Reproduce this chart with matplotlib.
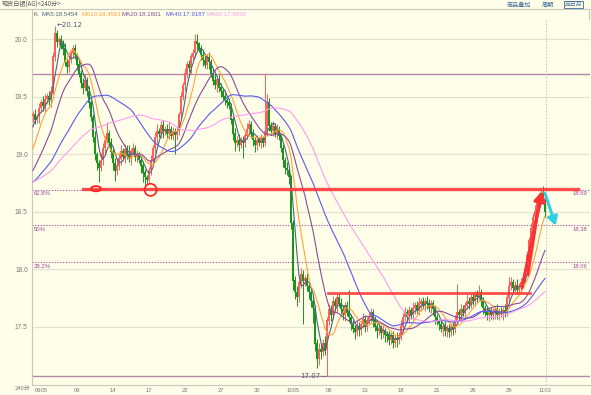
import numpy as np
import pandas as pd
import matplotlib
matplotlib.use("Agg")
import matplotlib.pyplot as plt
from matplotlib.patches import Ellipse

# ---------------- data ----------------
warmup_closes = [
    18.80, 18.78, 18.82, 18.85, 18.80, 18.76, 18.72, 18.75, 18.78, 18.74,
    18.70, 18.72, 18.76, 18.78, 18.74, 18.72, 18.76, 18.74, 18.70, 18.73,
    18.70, 18.66, 18.62, 18.60, 18.64, 18.68, 18.65, 18.62, 18.66, 18.70,
    18.68, 18.64, 18.62, 18.66, 18.70, 18.68, 18.65, 18.66, 18.68, 18.66,
    18.64, 18.62, 18.66, 18.70, 18.65, 18.68, 18.64, 18.66, 18.72, 18.73,
    18.78, 18.82, 18.85, 18.90, 18.95, 19.05, 19.18, 19.28, 19.33,
]
closes = [
    19.35, 19.30, 19.33, 19.40, 19.45, 19.42, 19.48, 19.50, 19.47, 19.55,
    19.85, 20.05, 19.98, 20.00, 19.96, 19.92, 19.80, 19.76, 19.82, 19.88,
    19.92, 19.86, 19.78, 19.70, 19.62, 19.58, 19.64, 19.55, 19.45, 19.32,
    19.15, 19.00, 18.92, 18.88, 18.95, 19.05, 19.12, 19.18, 19.10, 19.02,
    18.92, 18.85, 18.90, 18.96, 19.02, 18.98, 19.04, 19.00, 18.96, 19.02,
    19.05, 18.98, 19.00, 18.95, 18.90, 18.84, 18.80, 18.78, 18.86, 18.95,
    19.05, 19.15, 19.20, 19.18, 19.25, 19.20, 19.22, 19.18, 19.22, 19.16,
    19.20, 19.17, 19.20, 19.35, 19.50, 19.60, 19.70, 19.78, 19.75, 19.85,
    19.88, 19.98, 19.96, 19.92, 19.86, 19.82, 19.78, 19.84, 19.80, 19.70,
    19.64, 19.60, 19.65, 19.58, 19.55, 19.50, 19.47, 19.45, 19.42, 19.30,
    19.18, 19.10, 19.12, 19.08, 19.12, 19.10, 19.16, 19.22, 19.26, 19.18,
    19.12, 19.08, 19.12, 19.10, 19.14, 19.10, 19.20, 19.45, 19.25, 19.20,
    19.24, 19.18, 19.22, 19.16, 19.05, 18.95, 18.88, 18.86, 18.80, 18.40,
    17.90, 17.80, 17.76, 17.88, 17.95, 17.90, 17.92, 17.85, 17.80, 17.72,
    17.66, 17.35, 17.22, 17.30, 17.28, 17.35, 17.30, 17.55, 17.65, 17.60,
    17.72, 17.68, 17.75, 17.70, 17.65, 17.60, 17.68, 17.62, 17.58, 17.52,
    17.48, 17.45, 17.50, 17.47, 17.52, 17.56, 17.50, 17.55, 17.58, 17.62,
    17.55, 17.50, 17.46, 17.48, 17.44, 17.47, 17.43, 17.42, 17.38, 17.42,
    17.36, 17.40, 17.38, 17.42, 17.50, 17.58, 17.62, 17.58, 17.64, 17.60,
    17.66, 17.68, 17.64, 17.70, 17.72, 17.68, 17.72, 17.70, 17.66, 17.70,
    17.65, 17.58, 17.55, 17.52, 17.48, 17.50, 17.46, 17.48, 17.45, 17.50,
    17.48, 17.55, 17.62, 17.60, 17.65, 17.62, 17.68, 17.72, 17.70, 17.75,
    17.72, 17.78, 17.76, 17.80, 17.72, 17.66, 17.62, 17.60, 17.64, 17.60,
    17.62, 17.65, 17.60, 17.63, 17.61, 17.64, 17.62, 17.75, 17.85, 17.88,
    17.84, 17.86, 17.82, 17.85, 17.88, 17.92, 18.00, 18.12, 18.25, 18.35,
    18.45, 18.50, 18.58, 18.62, 18.66, 18.60, 18.50,
]
# upper / lower shadow lengths in hundredths
upper_shadow = [
    3, 4, 2, 5, 3, 6, 4, 3, 5, 4,   4, 7, 3, 2, 4, 3, 5, 3, 4, 2,
    3, 4, 2, 5, 3, 4, 6, 3, 4, 2,   3, 5, 2, 3, 6, 5, 4, 10, 3, 4,
    3, 5, 7, 4, 6, 3, 5, 4, 8, 3,   5, 3, 4, 2, 3, 4, 3, 2, 3, 4,
    3, 4, 6, 3, 4, 5, 3, 4, 6, 3,   4, 3, 5, 2, 4, 3, 5, 3, 4, 3,
    4, 7, 7, 2, 3, 5, 4, 3, 5, 3,   4, 6, 3, 5, 4, 3, 6, 2, 4, 3,
    3, 5, 4, 6, 3, 4, 3, 5, 4, 3,   4, 3, 5, 3, 4, 2, 50, 7, 4, 3,
    5, 3, 4, 3, 2, 4, 3, 5, 3, 2,   3, 4, 5, 3, 6, 4, 3, 5, 4, 3,
    4, 3, 4, 6, 5, 4, 7, 3, 5, 4,   5, 3, 4, 3, 5, 4, 3, 4, 20, 3,
    4, 3, 5, 4, 3, 6, 4, 3, 5, 4,   3, 4, 3, 5, 3, 4, 2, 3, 4, 3,
    4, 3, 5, 3, 6, 4, 5, 3, 4, 3,   5, 3, 4, 6, 3, 4, 3, 5, 4, 3,
    3, 4, 3, 2, 4, 3, 5, 3, 4, 3,   4, 5, 25, 3, 5, 4, 3, 6, 4, 3,
    5, 3, 4, 6, 3, 4, 3, 5, 2, 3,   4, 3, 5, 3, 4, 3, 6, 4, 8, 5,
    3, 4, 5, 3, 4, 5, 3, 4, 3, 5,   4, 6, 3, 4, 3, 6, 4,
]
lower_shadow = [
    5, 4, 3, 6, 3, 4, 5, 3, 4, 6,   3, 4, 5, 3, 4, 6, 3, 5, 4, 3,
    4, 3, 5, 3, 4, 6, 3, 4, 5, 3,   4, 5, 6, 12, 3, 4, 5, 3, 4, 5,
    6, 8, 3, 4, 5, 3, 6, 4, 3, 5,   3, 4, 5, 3, 6, 8, 8, 4, 3, 4,
    3, 4, 5, 3, 4, 6, 3, 4, 5, 3,   4, 17, 5, 3, 4, 3, 5, 4, 3, 4,
    3, 4, 5, 3, 4, 5, 3, 4, 6, 3,   4, 3, 6, 4, 5, 3, 4, 5, 3, 4,
    6, 7, 4, 5, 3, 13, 4, 3, 5, 4,  5, 6, 4, 3, 5, 4, 3, 4, 5, 3,
    4, 3, 5, 4, 3, 6, 5, 4, 6, 5,   8, 6, 8, 5, 4, 38, 5, 4, 6, 5,
    13, 6, 8, 5, 6, 4, 5, 23, 4, 5, 3, 4, 5, 3, 6, 4, 5, 3, 4, 5,
    4, 6, 3, 5, 4, 3, 5, 4, 3, 4,   5, 4, 6, 3, 5, 4, 6, 5, 4, 3,
    5, 4, 6, 3, 4, 5, 3, 4, 5, 3,   4, 5, 3, 4, 6, 3, 4, 5, 3, 4,
    5, 6, 4, 5, 3, 6, 4, 5, 4, 3,   5, 4, 3, 4, 5, 3, 4, 3, 5, 4,
    3, 4, 5, 3, 4, 5, 3, 4, 5, 3,   4, 5, 3, 4, 3, 5, 4, 3, 4, 3,
    5, 3, 4, 3, 5, 3, 4, 3, 4, 3,   4, 3, 5, 3, 4, 3, 5,
]
ma_windows = [5, 10, 20, 40, 60]
ma_names = ["MA5", "MA10", "MA20", "MA40", "MA60"]
ma_header_values = ["18.5454", "18.4561", "18.1601", "17.9187", "17.8030"]
tick_bars = [4, 22, 40, 58, 76, 94, 112, 130, 148, 166, 184, 202, 220, 238, 256]
tick_labels = ["0905", "09", "14", "17", "22", "27", "30", "1005",
               "08", "13", "18", "21", "26", "29", "1103"]
y_ticks = [20.0, 19.5, 19.0, 18.5, 18.0, 17.5]
fib_top, fib_bottom = 19.70, 17.07
fib_levels = [18.69, 18.38, 18.06]
fib_names = ["61.8%", "50%", "38.2%"]
fib_values = ["18.69", "18.38", "18.06"]
high_label, low_label = "20.12", "17.07"
resistance_1, resistance_2 = 18.70, 17.79

# ---------------- style ----------------
W, H = 591, 395
BG = "#FFFEE8"
MA_COLORS = ["#4A6584", "#FFA23C", "#8A4C9C", "#5A5AF0", "#FF9CF0"]
UP_C, DN_C = "#FF5E5E", "#17961A"
TXT = "#7A7A7A"
FIB_C = "#A04AA0"
FONT = ["Liberation Sans", "DejaVu Sans"]
CJK = ["Noto Sans CJK SC", "DejaVu Sans"]
plt.rcParams["font.family"] = FONT

fig = plt.figure(figsize=(W / 100, H / 100), dpi=100)
fig.patch.set_facecolor(BG)


def fx(px):
    return px / W


def fy(py):
    return 1 - py / H


ax_top, ax_bot, ax_left, ax_right = 19, 384.5, 32, 590
ax = fig.add_axes([fx(ax_left), fy(ax_bot), (ax_right - ax_left) / W, (ax_bot - ax_top) / H])
ax.set_facecolor(BG)

n = len(closes)
xs = np.arange(n)
c = np.array(closes)
o = np.concatenate([[warmup_closes[-1]], c[:-1]])
hi = np.maximum(o, c) + np.array(upper_shadow) / 100
lo = np.minimum(o, c) - np.array(lower_shadow) / 100
up = c >= o
cols = np.where(up, UP_C, DN_C)

# grid & reference lines
for t in y_ticks:
    ax.axhline(t, color="#E4E1CF", lw=0.9, zorder=0)
ax.axhline(fib_top, color="#B08AA8", lw=1.0, zorder=1)
ax.axhline(fib_bottom, color="#B08AA8", lw=1.0, zorder=1)
for lv in fib_levels:
    ax.axhline(lv, color=FIB_C, lw=0.8, ls=(0, (1, 1.5)), zorder=1)

# candles
ax.vlines(xs, lo, hi, colors=cols, lw=0.7, zorder=3)
ax.bar(xs, np.abs(c - o) + 0.004, bottom=np.minimum(o, c), width=0.85,
       color=cols, lw=0, zorder=3)

# moving averages
full = pd.Series(list(warmup_closes) + list(closes))
for w, col in zip(ma_windows, MA_COLORS):
    ma = full.rolling(w).mean().values[len(warmup_closes):]
    ax.plot(xs, ma, color=col, lw=0.8, zorder=4)

# last-bar cursor
ax.axvline(n - 0.5, color="#BBBBBB", lw=0.6, ls=(0, (2, 2)), zorder=2)

# drawings
ax.plot([25, 272.5], [resistance_1, resistance_1], color="#FF3B3B", lw=2.4, alpha=0.9, zorder=5)
ax.plot([147.5, 248.5], [resistance_2, resistance_2], color="#FF3B3B", lw=2.0, alpha=0.9, zorder=5)
ax.add_patch(Ellipse((31.5, resistance_1), 5, 0.045, fill=False, ec="#FF2020", lw=1.3, zorder=6))
ax.add_patch(Ellipse((58.8, 18.69), 6, 0.105, fill=False, ec="#FF2020", lw=1.2, zorder=6))
ax.annotate("", xy=(254.5, 18.68), xytext=(244.5, 17.84),
            arrowprops=dict(arrowstyle="-|>,head_width=0.35,head_length=0.6",
                            color="#FF3030", lw=2.2, shrinkA=0, shrinkB=0), zorder=6)
ax.annotate("", xy=(253.5, 18.62), xytext=(247.5, 17.95),
            arrowprops=dict(arrowstyle="-", color="#FF3030", lw=2.0, shrinkA=0, shrinkB=0), zorder=6)
ax.annotate("", xy=(261.3, 18.38), xytext=(256, 18.66),
            arrowprops=dict(arrowstyle="-|>,head_width=0.3,head_length=0.5",
                            color="#2FD0E0", lw=2.2, shrinkA=0, shrinkB=0), zorder=6)

# fib labels
for lv, nm, val in zip(fib_levels, fib_names, fib_values):
    ax.text(0.5, lv - 0.012, nm, fontsize=4.3, color=FIB_C, va="top", ha="left")
    ax.text(270, lv - 0.012, val, fontsize=4.2, color=FIB_C, va="top", ha="left")

ax.text(12, 20.125, "\u2190" + high_label, fontsize=5, color="#4A5A78", va="center", ha="left",
        family=["DejaVu Sans"])
ax.text(147, 17.07, low_label + "\u2014", fontsize=5, color="#4A5A78", va="center", ha="right",
        family=["DejaVu Sans"])

# axes
ax.set_xlim(-0.5, (ax_right - 33) / 2)
ax.set_ylim(16.996, 20.177)
ax.set_yticks(y_ticks)
ax.set_yticklabels([f"{t:.1f}" for t in y_ticks])
ax.set_xticks(tick_bars)
ax.set_xticklabels(tick_labels)
ax.tick_params(axis="y", length=0, labelsize=4.8, labelcolor=TXT, pad=3)
ax.tick_params(axis="x", length=0, labelsize=4.2, labelcolor=TXT, pad=2.5)
for s in ["top", "right"]:
    ax.spines[s].set_visible(False)
ax.spines["left"].set_color("#C8C8C0")
ax.spines["bottom"].set_color("#C8C8C0")
ax.spines["left"].set_linewidth(0.8)
ax.spines["bottom"].set_linewidth(0.8)

# header
fig.text(fx(2), fy(4.5), "现货白银(AG)<240分>", fontsize=4.4, color="#555555",
         family=CJK, va="center", ha="left")
fig.add_artist(plt.Line2D([0, 1], [fy(8.5), fy(8.5)], color="#C8C8C0", lw=0.8))
fig.add_artist(plt.Line2D([fx(32), fx(32)], [fy(19), fy(8.5)], color="#C8C8C0", lw=0.8))
fig.add_artist(plt.Line2D([fx(589), fx(589)], [fy(19), fy(8.5)], color="#C8C8C0", lw=0.8))
fig.text(fx(34), fy(14), "K", fontsize=4.4, color="#555555", va="center", ha="left")
for xp, nm, val, col in zip([41.5, 81, 121.5, 165.5, 206.5], ma_names, ma_header_values, MA_COLORS):
    fig.text(fx(xp), fy(14), f"{nm}:{val}", fontsize=4.4, color=col, va="center", ha="left")
fig.text(fx(507), fy(4.5), "商品叠加", fontsize=4.4, color="#3A6A9A", family=CJK, va="center", ha="left")
fig.text(fx(542), fy(4.5), "周期", fontsize=4.4, color="#3A6A9A", family=CJK, va="center", ha="left")
fig.text(fx(565), fy(4.5), "品日月", fontsize=4.2, color="#3A6A9A", family=CJK, va="center", ha="left",
         bbox=dict(boxstyle="square,pad=0.1", fc="none", ec="#3A6A9A", lw=0.6))
fig.text(fx(15), fy(389.5), "240分", fontsize=4.2, color=TXT, family=CJK, va="center", ha="left")

fig.savefig("out.png", dpi=100, facecolor=BG)
